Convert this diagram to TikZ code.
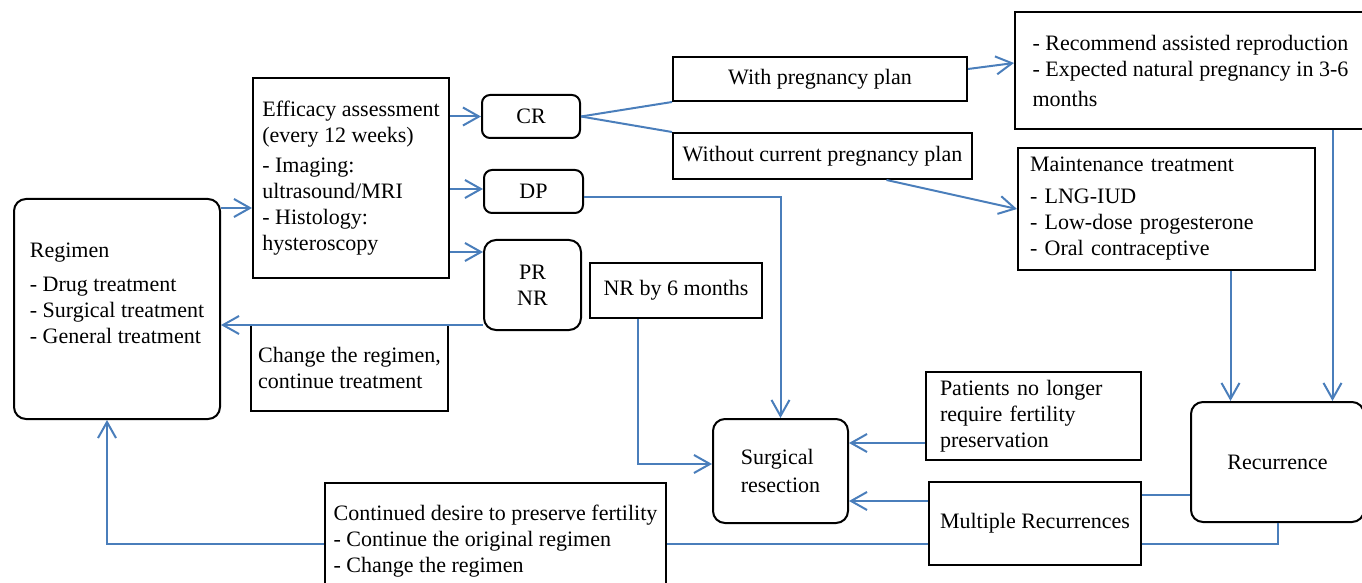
\documentclass[tikz,border=0pt]{standalone}
\usepackage{fontspec}
\setmainfont{Liberation Serif}
\usetikzlibrary{arrows.meta}
\definecolor{lineblue}{RGB}{74,126,187}
\tikzset{
  box/.style={draw, line width=1pt, rectangle, inner ysep=2pt},
  rbox/.style={box, rounded corners=6pt},
  link/.style={draw=lineblue, line width=1pt, -{Straight Barb[length=8pt,width=9pt]}},
  wire/.style={draw=lineblue, line width=1pt}
}
\begin{document}
\begin{tikzpicture}[x=0.5pt, y=-0.5pt, font=\fontsize{11}{13}\selectfont]
      \useasboundingbox (0,0) rectangle (1362,583);
      \node[rbox, minimum width=103pt, minimum height=110pt, align=left] (regimen) at (117,309)
        {Regimen\\[4pt]- Drug treatment\\- Surgical treatment\\- General treatment\\[3pt]\mbox{}};
      \node[box, minimum width=98pt, minimum height=100pt, align=left] (eff) at (351,178)
        {Efficacy assessment\\(every 12 weeks)\\[2pt]- Imaging:\\ultrasound/MRI\\- Histology:\\hysteroscopy};
      \node[box, minimum width=98.5pt, minimum height=43pt, align=left] (chg) at (349.5,368)
        {Change the regimen,\\continue treatment};
      \node[rbox, rounded corners=4pt, minimum width=49pt, minimum height=21.5pt] (cr) at (531,116.5) {CR};
      \node[rbox, rounded corners=4pt, minimum width=49.5pt, minimum height=21.5pt] (dp) at (533.5,191.5) {DP};
      \node[rbox, minimum width=48.5pt, minimum height=45pt, align=center] (prnr) at (532.5,285) {PR\\NR};
      \node[box, minimum width=86pt, minimum height=27.5pt] (nr6) at (676,290.5) {NR by 6 months};
      \node[box, minimum width=147pt, minimum height=22pt] (withp) at (820,79) {With pregnancy plan};
      \node[box, minimum width=149.5pt, minimum height=23pt] (withoutp) at (822.5,156) {Without current pregnancy plan};
      \node[box, minimum width=175.5pt, minimum height=58.5pt, align=left] (assist) at (1190.5,70.5)
        {- Recommend assisted reproduction\\- Expected natural pregnancy in 3-6\\[2pt]months};
      \node[box, minimum width=148.5pt, minimum height=61pt, text width=136.5pt, inner xsep=6pt, align=left] (maint) at (1166.5,209)
        {Maintenance treatment\\[3pt]- LNG-IUD\\- Low-dose progesterone\\- Oral contraceptive};
      \node[rbox, minimum width=67.5pt, minimum height=52pt, align=left] (surg) at (780.5,471) {Surgical\\[1pt]resection};
      \node[box, minimum width=107.5pt, minimum height=44pt, text width=93.5pt, inner xsep=7pt, align=left] (patients) at (1033.5,416)
        {Patients no longer\\require fertility\\preservation};
      \node[box, minimum width=106pt, minimum height=41.5pt] (multi) at (1035,523.5) {Multiple Recurrences};
      \node[rbox, minimum width=86.5pt, minimum height=60pt] (rec) at (1277.5,462) {Recurrence};
      \node[box, minimum width=170.5pt, minimum height=58pt, align=left] (cont) at (495.5,541)
        {Continued desire to preserve fertility\\- Continue the original regimen\\- Change the regimen};
      \begin{scope}[link]
        \draw (regimen.east |- 0,208) -- (eff.west |- 0,208);
        \draw (eff.east |- cr.west) -- (cr.west);
        \draw (eff.east |- 0,189) -- (dp.west |- 0,189);
        \draw (eff.east |- 0,252) -- (prnr.west |- 0,252);
        \draw ([yshift=5pt]withp.east) -- (assist.west |- 0,63);
        \draw ([xshift=32pt]withoutp.south) -- (maint.west |- 0,209);
        \draw ([yshift=-3pt]dp.east) -| (surg.north);
        \draw ([xshift=-19pt]nr6.south) |- (surg.west |- 0,464);
        \draw (prnr.west |- 0,325) -- (regimen.east |- 0,325);
        \draw (patients.west |- 0,443) -- (surg.east |- 0,443);
        \draw (multi.west |- 0,501) -- (surg.east |- 0,501);
        \draw (cont.west |- 0,544) -| ([xshift=-5pt]regimen.south);
        \draw ([xshift=32pt]maint.south) -- ([xshift=32pt]maint.south |- rec.north);
        \draw ([xshift=71pt]assist.south) -- ([xshift=71pt]assist.south |- rec.north);
      \end{scope}
      \begin{scope}[wire]
        \draw (cr.east) -- (withp.south west);
        \draw (cr.east) -- (withoutp.north west);
        \draw (rec.west |- 0,495) -- (multi.east |- 0,495);
        \draw (rec.south) |- (multi.east |- 0,544);
        \draw (multi.west |- 0,544) -- (cont.east |- 0,544);
      \end{scope}
    \end{tikzpicture}
\end{document}
